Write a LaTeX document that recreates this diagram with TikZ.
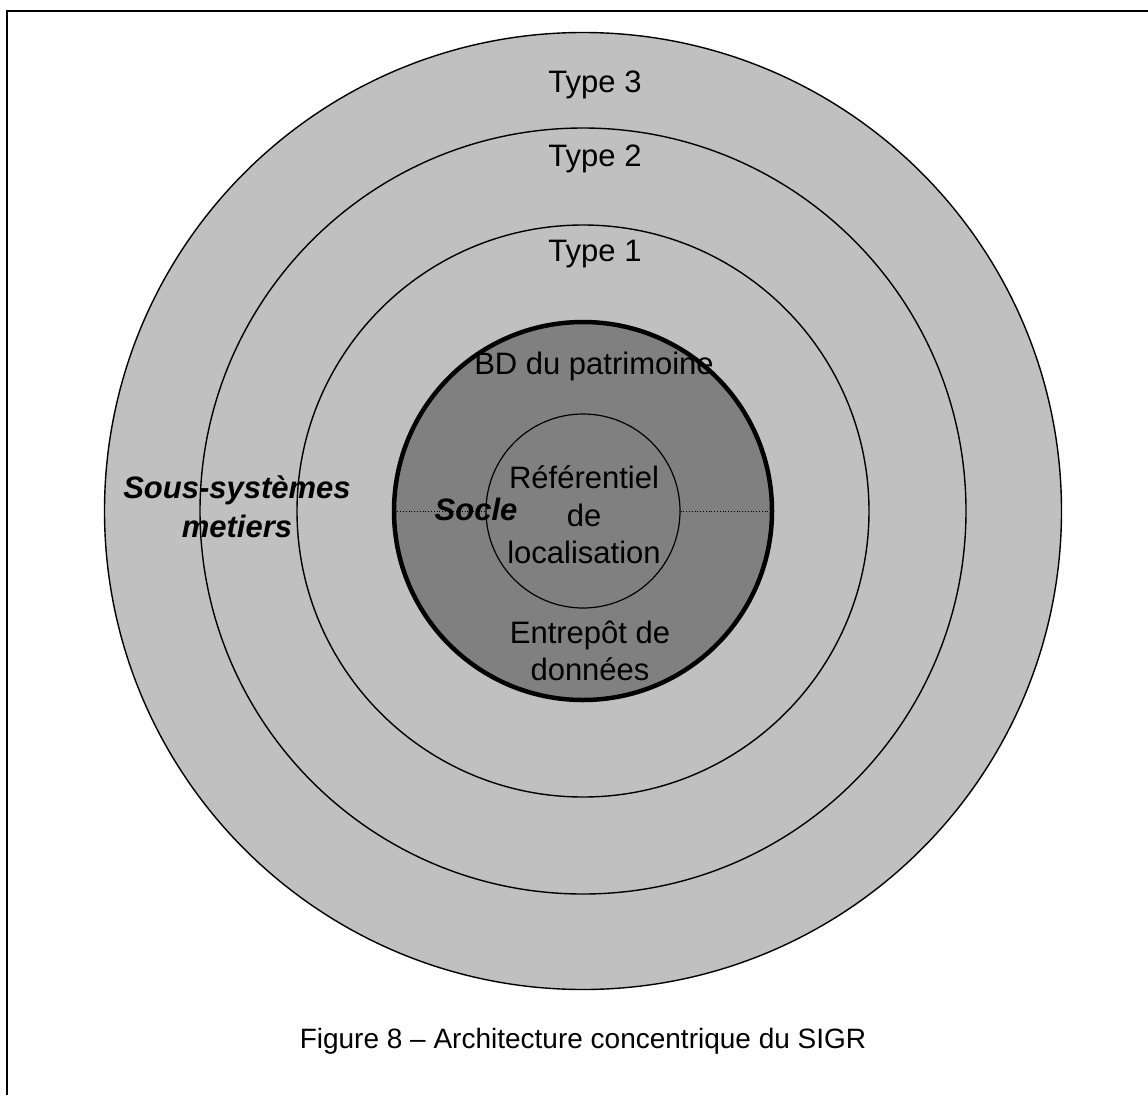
\documentclass[tikz,border=0pt]{standalone}
\usepackage{fontspec}
\setmainfont{Liberation Sans}
\usepackage{xcolor}
\definecolor{ringgray}{HTML}{C0C0C0}
\definecolor{coregray}{HTML}{808080}
\tikzset{
	ringlight/.style={circle,draw=black,fill=ringgray,inner sep=0pt,line width=1.4pt},
	ringcore/.style={circle,draw=black,fill=coregray,inner sep=0pt,line width=4.5pt},
	ringref/.style={circle,draw=black,fill=coregray,inner sep=0pt,line width=1.2pt},
	ringtext/.style={inner sep=0pt,font=\fontsize{31}{37.5}\selectfont},
	ringbold/.style={ringtext,font=\fontsize{31}{39}\selectfont\bfseries\itshape},
	socleline/.style={draw=black,line width=0.8pt,dotted}
}
\begin{document}
\begin{tikzpicture}[x=1pt,y=-1pt]
	\useasboundingbox (0,0) rectangle (1148,1095);
	\draw[line width=1.6pt] (7,1095) -- (7,11) -- (1148,11);
	\node[ringlight,minimum size=957pt] (t3) at (583,511) {};
	\node[ringlight,minimum size=766pt] (t2) at (583,511) {};
	\node[ringlight,minimum size=572pt] (t1) at (583,511) {};
	\node[ringcore,minimum size=378pt] (socle) at (583,511) {};
	\node[ringref,minimum size=194pt] (ref) at (583,511) {};
	\draw[socleline] (socle.west) -- (ref.west) (ref.east) -- (socle.east);
	\node[ringtext,anchor=base] (lt3) at (595,92) {Type 3};
	\node[ringtext,anchor=base] (lt2) at (595,166) {Type 2};
	\node[ringtext,anchor=base] (lt1) at (595,261) {Type 1};
	\node[ringtext,anchor=base] (lbd) at (594,374) {BD du patrimoine};
	\node[ringtext,align=center] (lref) at (584,515) {Référentiel\\de\\localisation};
	\node[ringtext,align=center] (lent) at (590,651) {Entrepôt de\\données};
	\node[ringbold,anchor=base] (lsocle) at (476,520) {Socle};
	\node[ringbold,align=center] (lsous) at (237,507) {Sous-systèmes\\metiers};
	\node[ringtext,anchor=base,font=\fontsize{28}{34}\selectfont] (cap) at (583,1048) {Figure 8 – Architecture concentrique du SIGR};
\end{tikzpicture}
\end{document}
